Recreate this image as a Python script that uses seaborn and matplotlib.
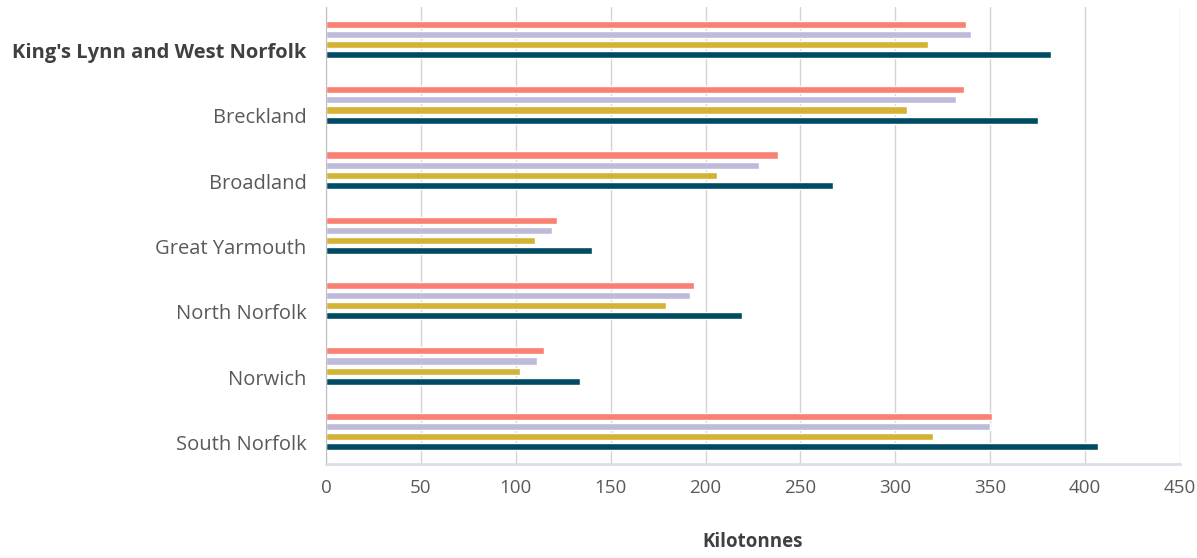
import pandas as pd
import seaborn as sns
import matplotlib.pyplot as plt
import matplotlib.transforms as mtrans
import numpy as np

# district names and the four series (kilotonnes)
districts = ["King's Lynn and West Norfolk", 'Breckland', 'Broadland', 'Great Yarmouth',
             'North Norfolk', 'Norwich', 'South Norfolk']
series_names = ['Series A', 'Series B', 'Series C', 'Series D']
series_a = [337, 336, 238, 122, 194, 115, 351]
series_b = [340, 332, 228, 119, 192, 111, 350]
series_c = [317, 306, 206, 110, 179, 102, 320]
series_d = [382, 375, 267, 140, 219, 134, 407]
colors = ['#F98072', '#BEBADA', '#D4B233', '#004B63']

df = pd.DataFrame({'District': districts, series_names[0]: series_a, series_names[1]: series_b,
                   series_names[2]: series_c, series_names[3]: series_d})
df_long = df.melt(id_vars='District', var_name='Series', value_name='Kilotonnes')

sns.set_style('white')
plt.rcParams['font.family'] = ['Open Sans', 'DejaVu Sans']

fig = plt.figure(figsize=(11.97, 5.58), dpi=100)
ax = fig.add_axes([0.2723, 0.1685, 0.7135, 0.819])

sns.barplot(data=df_long, y='District', x='Kilotonnes', hue='Series', order=districts,
            hue_order=series_names, palette=colors, orient='h', width=0.62, gap=0.3,
            saturation=1, legend=False, ax=ax)

ax.set_xlim(0, 450)
ax.set_xticks(range(0, 451, 50))
ax.set_ylim(len(districts) - 0.5, -0.5)
ax.grid(axis='x', color='#d3d3d3', linewidth=1)
ax.set_axisbelow(True)

for s in ['top', 'right']:
    ax.spines[s].set_visible(False)
ax.spines['left'].set_color('#bfbfbf')
ax.spines['bottom'].set_color('#d9dfe9')
ax.spines['bottom'].set_linewidth(2)

# boundary ticks between categories
ax.set_yticks(np.arange(-0.5, len(districts), 1), minor=True)
ax.tick_params(axis='y', which='minor', length=8, color='#bfbfbf', width=1)
ax.tick_params(axis='y', which='major', length=0, pad=14, labelsize=14.5, labelcolor='#595959')
ax.tick_params(axis='x', length=3, color='#d3d3d3', labelsize=13.5, labelcolor='#595959', pad=8)

# labels sit a little below the group centre in the original
offset = mtrans.ScaledTranslation(0, -11 / 100, fig.dpi_scale_trans)
for lab in ax.get_yticklabels():
    lab.set_transform(lab.get_transform() + offset)
ax.get_yticklabels()[0].set_fontweight('bold')
ax.get_yticklabels()[0].set_color('#404040')

ax.set_ylabel('')
ax.set_xlabel('Kilotonnes', fontsize=13.5, fontweight='bold', color='#404040', labelpad=25)

fig.savefig('out.png', dpi=100)
